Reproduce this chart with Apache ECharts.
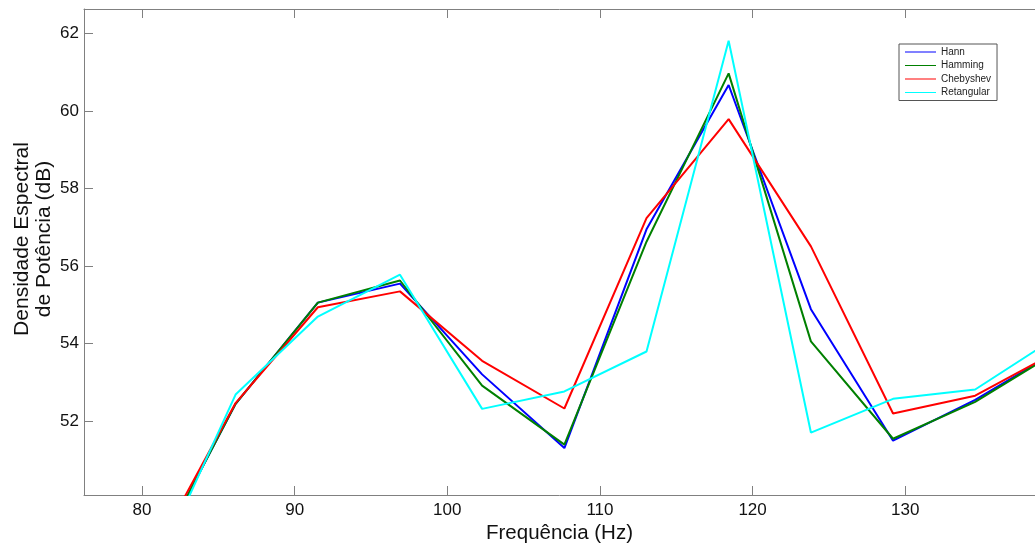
<!DOCTYPE html>
<html>
<head>
<meta charset="utf-8">
<script src="https://cdn.jsdelivr.net/npm/echarts@6/dist/echarts.min.js"></script>
<style>
    * { margin: 0; padding: 0; }
    body { background: #fff; }
    #chart { width: 1035px; height: 545px; }
</style>
</head>
<body>
<div id="chart"></div>
<script>
// frequencias dos bins (Hz)
var freqs = [80.75, 86.13, 91.52, 96.90, 102.28, 107.67, 113.05, 118.43, 123.82, 129.20, 134.58, 139.97]
// densidade espectral (dB) por janela
var hann = [48.41, 52.45, 55.06, 55.55, 53.21, 51.31, 56.95, 60.67, 54.89, 51.50, 52.55, 53.81]
var hamming = [48.41, 52.45, 55.06, 55.63, 52.92, 51.40, 56.63, 60.97, 54.06, 51.55, 52.50, 53.80]
var chebyshev = [48.57, 52.47, 54.94, 55.35, 53.56, 52.33, 57.24, 59.79, 56.51, 52.20, 52.66, 53.81]
var retangular = [48.05, 52.69, 54.70, 55.78, 52.32, 52.77, 53.80, 61.81, 51.71, 52.58, 52.82, 54.19]
var xTicks = [80, 90, 100, 110, 120, 130]
var yTicks = [52, 54, 56, 58, 60, 62]

var font = 'Liberation Sans, Arial, sans-serif'
var axisGray = '#808080'

function pairs(xs, ys) {
    var out = []
    for (var i = 0; i < xs.length; i++) {
        out.push([xs[i], ys[i]])
    }
    return out
}

function lineSeries(name, data, color) {
    return {
        name: name,
        type: 'line',
        symbol: 'none',
        data: pairs(freqs, data),
        lineStyle: { color: color, width: 2 },
        itemStyle: { color: color },
        animation: false
    }
}

var chart = echarts.init(document.getElementById('chart'))
var option = {
    backgroundColor: '#ffffff',
    textStyle: { fontFamily: font },
    grid: { left: 84, right: 0, top: 9, bottom: 50, containLabel: false, outerBoundsMode: 'none' },
    legend: {
        orient: 'vertical',
        left: 899,
        top: 44,
        icon: 'rect',
        itemWidth: 31,
        itemHeight: 1,
        itemGap: 3.5,
        padding: [3, 6, 3, 6],
        borderColor: '#555',
        borderWidth: 1,
        textStyle: { fontSize: 10, color: '#222', fontFamily: font },
        data: ['Hann', 'Hamming', 'Chebyshev', 'Retangular']
    },
    xAxis: [
        {
            type: 'value',
            min: 76.2,
            max: 138.5,
            name: 'Frequência (Hz)',
            nameLocation: 'middle',
            nameGap: 28,
            nameMoveOverlap: false,
            nameTextStyle: { fontSize: 20.5, color: '#111', fontFamily: font },
            axisLine: { lineStyle: { color: axisGray } },
            axisTick: { inside: true, length: 9, customValues: xTicks, lineStyle: { color: axisGray } },
            axisLabel: { customValues: xTicks, fontSize: 17, color: '#111', margin: 7 },
            splitLine: { show: false }
        },
        {
            type: 'value',
            position: 'top',
            min: 76.2,
            max: 138.5,
            axisLine: { lineStyle: { color: axisGray } },
            axisTick: { inside: true, length: 9, customValues: xTicks, lineStyle: { color: axisGray } },
            axisLabel: { show: false },
            splitLine: { show: false }
        }
    ],
    yAxis: [
        {
            type: 'value',
            min: 50.1,
            max: 62.63,
            name: 'Densidade Espectral\nde Potência (dB)',
            nameLocation: 'middle',
            nameGap: 29,
            nameMoveOverlap: false,
            nameTextStyle: { fontSize: 21, color: '#111', fontFamily: font, lineHeight: 22, padding: [0, 0, 0, 26] },
            axisLine: { show: true, lineStyle: { color: axisGray } },
            axisTick: { show: true, inside: true, length: 9, customValues: yTicks, lineStyle: { color: axisGray } },
            axisLabel: { customValues: yTicks, fontSize: 17, color: '#111', margin: 5 },
            splitLine: { show: false }
        }
    ],
    series: [
        lineSeries('Hann', hann, '#0000ff'),
        lineSeries('Hamming', hamming, '#008000'),
        lineSeries('Chebyshev', chebyshev, '#ff0000'),
        lineSeries('Retangular', retangular, '#00ffff')
    ]
}
chart.setOption(option)
</script>
</body>
</html>
